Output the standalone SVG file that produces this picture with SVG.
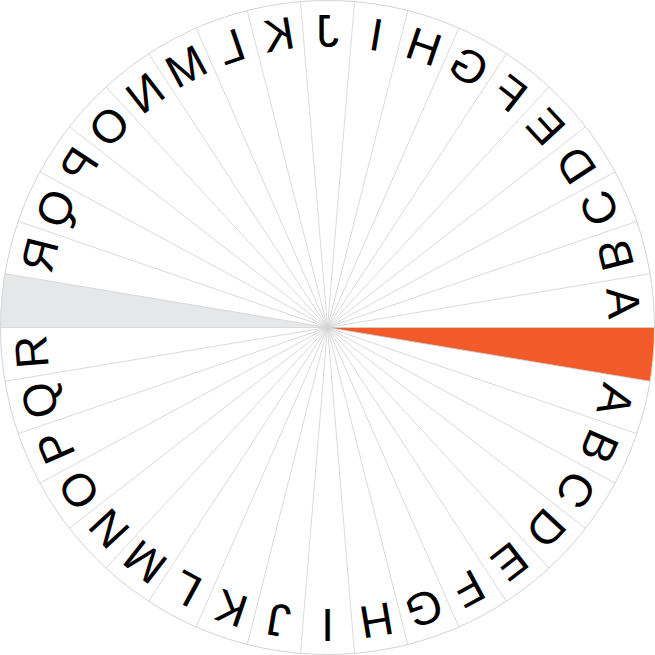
<svg xmlns="http://www.w3.org/2000/svg" xmlns:xlink="http://www.w3.org/1999/xlink" width="655" height="655" viewBox="0 0 655 655">
<style>
.ray{stroke:#d4d4d4;stroke-width:0.8;fill:none}
.rim{stroke:#d4d4d4;stroke-width:1;fill:none}
.lt{font-family:"Liberation Sans",Arial,sans-serif;font-size:46px;fill:#000;text-anchor:middle}
</style>
<defs>
<line id="ray" class="ray" x1="327.5" y1="327.5" x2="654.5" y2="327.5"/>
</defs>
<rect width="655" height="655" fill="#fff"/>
<g id="sectors">
<path id="orange" d="M327.5,327.5 L654.5,327.5 A327,327 0 0,1 650.04,381.32 Z" fill="#f15a29"/>
<path id="grey" d="M327.5,327.5 L0.5,327.5 A327,327 0 0,1 4.96,273.68 Z" fill="#e6e7e8"/>
</g>
<g id="connectors">
<use xlink:href="#ray" transform="rotate(0 327.5 327.5)"/>
<use xlink:href="#ray" transform="rotate(9.4737 327.5 327.5)"/>
<use xlink:href="#ray" transform="rotate(18.9474 327.5 327.5)"/>
<use xlink:href="#ray" transform="rotate(28.4211 327.5 327.5)"/>
<use xlink:href="#ray" transform="rotate(37.8947 327.5 327.5)"/>
<use xlink:href="#ray" transform="rotate(47.3684 327.5 327.5)"/>
<use xlink:href="#ray" transform="rotate(56.8421 327.5 327.5)"/>
<use xlink:href="#ray" transform="rotate(66.3158 327.5 327.5)"/>
<use xlink:href="#ray" transform="rotate(75.7895 327.5 327.5)"/>
<use xlink:href="#ray" transform="rotate(85.2632 327.5 327.5)"/>
<use xlink:href="#ray" transform="rotate(94.7368 327.5 327.5)"/>
<use xlink:href="#ray" transform="rotate(104.2105 327.5 327.5)"/>
<use xlink:href="#ray" transform="rotate(113.6842 327.5 327.5)"/>
<use xlink:href="#ray" transform="rotate(123.1579 327.5 327.5)"/>
<use xlink:href="#ray" transform="rotate(132.6316 327.5 327.5)"/>
<use xlink:href="#ray" transform="rotate(142.1053 327.5 327.5)"/>
<use xlink:href="#ray" transform="rotate(151.5789 327.5 327.5)"/>
<use xlink:href="#ray" transform="rotate(161.0526 327.5 327.5)"/>
<use xlink:href="#ray" transform="rotate(170.5263 327.5 327.5)"/>
<use xlink:href="#ray" transform="rotate(180 327.5 327.5)"/>
<use xlink:href="#ray" transform="rotate(189.4737 327.5 327.5)"/>
<use xlink:href="#ray" transform="rotate(198.9474 327.5 327.5)"/>
<use xlink:href="#ray" transform="rotate(208.4211 327.5 327.5)"/>
<use xlink:href="#ray" transform="rotate(217.8947 327.5 327.5)"/>
<use xlink:href="#ray" transform="rotate(227.3684 327.5 327.5)"/>
<use xlink:href="#ray" transform="rotate(236.8421 327.5 327.5)"/>
<use xlink:href="#ray" transform="rotate(246.3158 327.5 327.5)"/>
<use xlink:href="#ray" transform="rotate(255.7895 327.5 327.5)"/>
<use xlink:href="#ray" transform="rotate(265.2632 327.5 327.5)"/>
<use xlink:href="#ray" transform="rotate(274.7368 327.5 327.5)"/>
<use xlink:href="#ray" transform="rotate(284.2105 327.5 327.5)"/>
<use xlink:href="#ray" transform="rotate(293.6842 327.5 327.5)"/>
<use xlink:href="#ray" transform="rotate(303.1579 327.5 327.5)"/>
<use xlink:href="#ray" transform="rotate(312.6316 327.5 327.5)"/>
<use xlink:href="#ray" transform="rotate(322.1053 327.5 327.5)"/>
<use xlink:href="#ray" transform="rotate(331.5789 327.5 327.5)"/>
<use xlink:href="#ray" transform="rotate(341.0526 327.5 327.5)"/>
<use xlink:href="#ray" transform="rotate(350.5263 327.5 327.5)"/>
<circle class="rim" cx="327.5" cy="327.5" r="327"/>
</g>
<g id="outer-ring" class="lt">
<text transform="rotate(85.263 327.5 327.5) translate(655,0) scale(-1,1)" x="327.5" y="46.5">A</text>
<text transform="rotate(75.789 327.5 327.5) translate(655,0) scale(-1,1)" x="327.5" y="46.5">B</text>
<text transform="rotate(66.316 327.5 327.5) translate(655,0) scale(-1,1)" x="327.5" y="46.5">C</text>
<text transform="rotate(56.842 327.5 327.5) translate(655,0) scale(-1,1)" x="327.5" y="46.5">D</text>
<text transform="rotate(47.368 327.5 327.5) translate(655,0) scale(-1,1)" x="327.5" y="46.5">E</text>
<text transform="rotate(37.895 327.5 327.5) translate(655,0) scale(-1,1)" x="327.5" y="46.5">F</text>
<text transform="rotate(28.421 327.5 327.5) translate(655,0) scale(-1,1)" x="327.5" y="46.5">G</text>
<text transform="rotate(18.947 327.5 327.5) translate(655,0) scale(-1,1)" x="327.5" y="46.5">H</text>
<text transform="rotate(9.474 327.5 327.5) translate(655,0) scale(-1,1)" x="327.5" y="46.5">I</text>
<text transform="rotate(0 327.5 327.5) translate(655,0) scale(-1,1)" x="327.5" y="46.5">J</text>
<text transform="rotate(-9.474 327.5 327.5) translate(655,0) scale(-1,1)" x="327.5" y="46.5">K</text>
<text transform="rotate(-18.947 327.5 327.5) translate(655,0) scale(-1,1)" x="327.5" y="46.5">L</text>
<text transform="rotate(-28.421 327.5 327.5) translate(655,0) scale(-1,1)" x="327.5" y="46.5">M</text>
<text transform="rotate(-37.895 327.5 327.5) translate(655,0) scale(-1,1)" x="327.5" y="46.5">N</text>
<text transform="rotate(-47.368 327.5 327.5) translate(655,0) scale(-1,1)" x="327.5" y="46.5">O</text>
<text transform="rotate(-56.842 327.5 327.5) translate(655,0) scale(-1,1)" x="327.5" y="46.5">P</text>
<text transform="rotate(-66.316 327.5 327.5) translate(655,0) scale(-1,1)" x="327.5" y="46.5">Q</text>
<text transform="rotate(-75.789 327.5 327.5) translate(655,0) scale(-1,1)" x="327.5" y="46.5">R</text>
</g>
<g id="inner-ring" class="lt">
<text transform="rotate(104.211 327.5 327.5)" x="327.5" y="46.5">A</text>
<text transform="rotate(113.684 327.5 327.5)" x="327.5" y="46.5">B</text>
<text transform="rotate(123.158 327.5 327.5)" x="327.5" y="46.5">C</text>
<text transform="rotate(132.632 327.5 327.5)" x="327.5" y="46.5">D</text>
<text transform="rotate(142.105 327.5 327.5)" x="327.5" y="46.5">E</text>
<text transform="rotate(151.579 327.5 327.5)" x="327.5" y="46.5">F</text>
<text transform="rotate(161.053 327.5 327.5)" x="327.5" y="46.5">G</text>
<text transform="rotate(170.526 327.5 327.5)" x="327.5" y="46.5">H</text>
<text transform="rotate(180 327.5 327.5)" x="327.5" y="46.5">I</text>
<text transform="rotate(189.474 327.5 327.5)" x="327.5" y="46.5">J</text>
<text transform="rotate(198.947 327.5 327.5)" x="327.5" y="46.5">K</text>
<text transform="rotate(208.421 327.5 327.5)" x="327.5" y="46.5">L</text>
<text transform="rotate(217.895 327.5 327.5)" x="327.5" y="46.5">M</text>
<text transform="rotate(227.368 327.5 327.5)" x="327.5" y="46.5">N</text>
<text transform="rotate(236.842 327.5 327.5)" x="327.5" y="46.5">O</text>
<text transform="rotate(246.316 327.5 327.5)" x="327.5" y="46.5">P</text>
<text transform="rotate(255.789 327.5 327.5)" x="327.5" y="46.5">Q</text>
<text transform="rotate(265.263 327.5 327.5)" x="327.5" y="46.5">R</text>
</g>
</svg>
